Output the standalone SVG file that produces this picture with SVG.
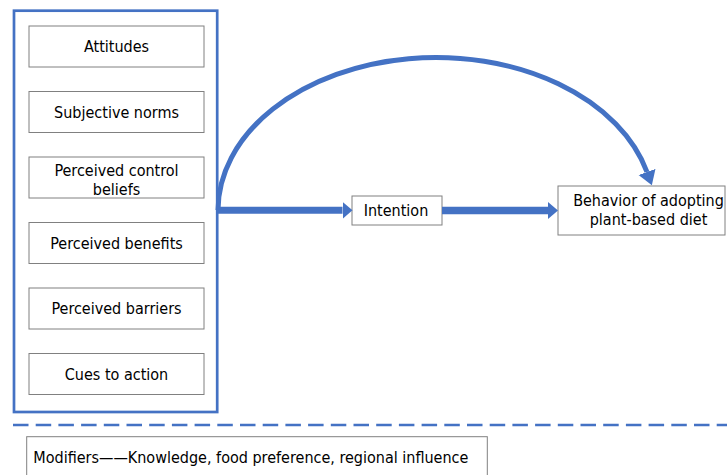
<svg xmlns="http://www.w3.org/2000/svg" width="727" height="475" viewBox="0 0 727 475">
  <style>
    .box { fill: #ffffff; stroke: #808080; stroke-width: 1; }
    .lbl { font-family: "DejaVu Sans Condensed", "DejaVu Sans", "Liberation Sans", sans-serif; font-stretch: condensed; font-size: 16px; fill: #000000; text-anchor: middle; }
    .lbl-left { text-anchor: start; }
    .blue { fill: none; stroke: #4472C4; }
  </style>
  <defs>
    <marker id="headStraight" markerUnits="userSpaceOnUse" markerWidth="12" markerHeight="20" viewBox="0 -10 12 20" refX="0" refY="0" orient="auto">
      <path d="M0,-8.5 L10,0 L0,8.5 Z" fill="#4472C4"/>
    </marker>
    <marker id="headCurve" markerUnits="userSpaceOnUse" markerWidth="16" markerHeight="20" viewBox="0 -10 16 20" refX="0" refY="0" orient="auto">
      <path d="M0,-9 L14,0 L0,9 Z" fill="#4472C4"/>
    </marker>
  </defs>

  <rect width="727" height="475" fill="#ffffff"/>

  <!-- construct panel -->
  <g id="constructs">
    <rect x="14" y="10.7" width="203.2" height="401.3" class="blue" stroke-width="2.7"/>
  </g>

  <g id="attitudes">
    <rect x="29" y="26" width="175" height="41" class="box"/>
    <text x="116.5" y="52" class="lbl">Attitudes</text>
  </g>
  <g id="subjective-norms">
    <rect x="29" y="91.5" width="175" height="41" class="box"/>
    <text x="116.5" y="117.5" class="lbl">Subjective norms</text>
  </g>
  <g id="perceived-control-beliefs">
    <rect x="29" y="157" width="175" height="41" class="box"/>
    <text x="116.5" y="176" class="lbl">Perceived control</text>
    <text x="116.5" y="194.5" class="lbl">beliefs</text>
  </g>
  <g id="perceived-benefits">
    <rect x="29" y="222.5" width="175" height="41" class="box"/>
    <text x="116.5" y="248.5" class="lbl">Perceived benefits</text>
  </g>
  <g id="perceived-barriers">
    <rect x="29" y="288" width="175" height="41" class="box"/>
    <text x="116.5" y="314" class="lbl">Perceived barriers</text>
  </g>
  <g id="cues-to-action">
    <rect x="29" y="353.5" width="175" height="41" class="box"/>
    <text x="116.5" y="379.5" class="lbl">Cues to action</text>
  </g>

  <g id="intention">
    <rect x="352" y="196" width="90" height="29" class="box"/>
    <text x="396" y="216" class="lbl">Intention</text>
  </g>

  <g id="behavior">
    <rect x="558" y="186" width="167" height="49" class="box"/>
    <text x="648.5" y="206" class="lbl">Behavior of adopting</text>
    <text x="648.5" y="224.5" class="lbl">plant-based diet</text>
  </g>

  <!-- connectors -->
  <g id="connectors">
    <path d="M218,210 A218,153 0 0 1 647,172" class="blue" stroke-width="5" marker-end="url(#headCurve)"/>
    <line x1="216" y1="210.3" x2="342.5" y2="210.3" class="blue" stroke-width="7" marker-end="url(#headStraight)"/>
    <line x1="442" y1="210.5" x2="548" y2="210.5" class="blue" stroke-width="7.5" marker-end="url(#headStraight)"/>
  </g>

  <!-- divider -->
  <line x1="13" y1="425" x2="727" y2="425" stroke="#4472C4" stroke-width="2.6" stroke-dasharray="15.5 7.2"/>

  <g id="modifiers">
    <rect x="26.7" y="436.7" width="460.6" height="45" class="box"/>
    <text x="33.3" y="462.7" class="lbl lbl-left">Modifiers——Knowledge, food preference, regional influence</text>
  </g>
</svg>
